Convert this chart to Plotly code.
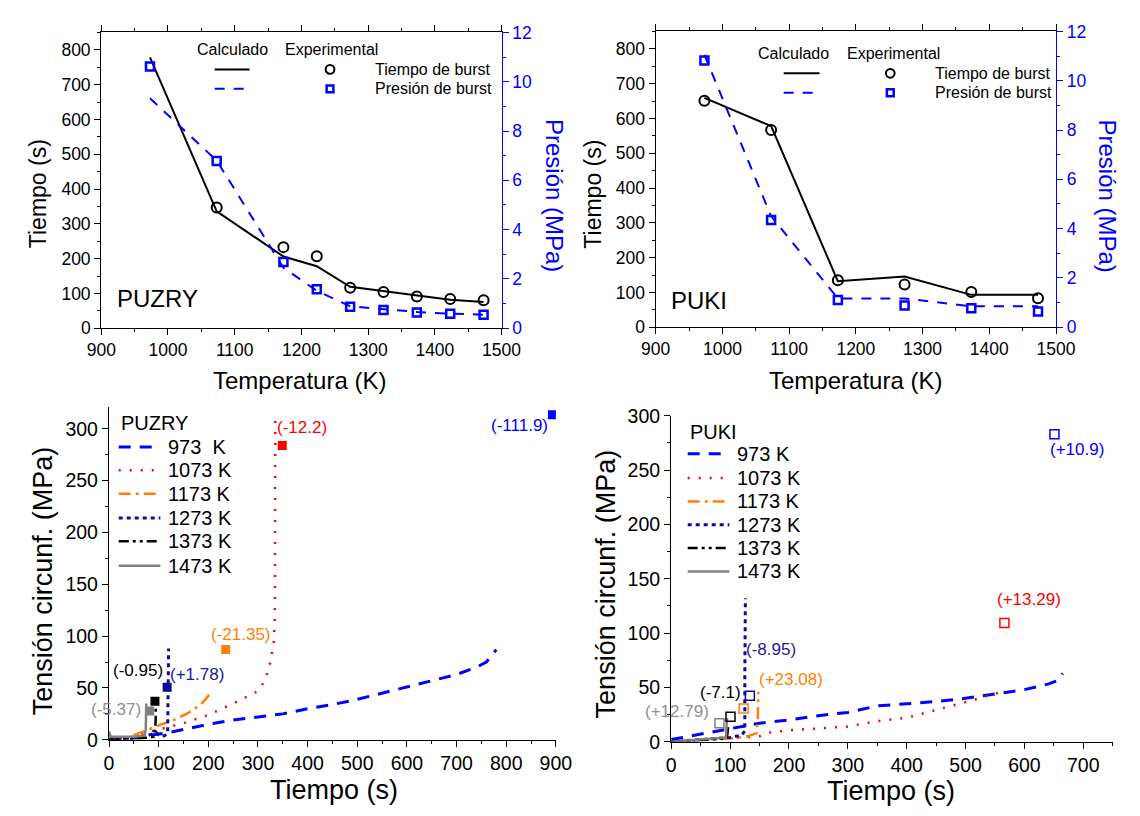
import plotly.graph_objects as go

# ---------------- DATA ----------------
# Top-left: PUZRY burst time / pressure vs temperature
T_PUZRY = [973, 1073, 1173, 1223, 1273, 1323, 1373, 1423, 1473]
puzry_time_calc = [778, 336, 206, 178, 119, 107, 94, 82, 75]
T_PUZRY_EXP = [1073, 1173, 1223, 1273, 1323, 1373, 1423, 1473]
puzry_time_exp = [347, 233, 207, 116, 104, 91, 84, 80]
puzry_pres_calc = [9.33, 6.8, 2.45, 1.52, 0.89, 0.76, 0.66, 0.59, 0.55]
puzry_pres_exp = [10.62, 6.78, 2.69, 1.58, 0.87, 0.74, 0.64, 0.59, 0.55]

# Top-right: PUKI
T_PUKI = [973, 1073, 1173, 1273, 1373, 1473]
puki_time_calc = [659, 578, 132, 146, 93, 93]
puki_time_exp = [651, 567, 135, 123, 101, 83]
puki_pres_calc = [11.05, 4.5, 1.17, 1.17, 0.85, 0.85]
puki_pres_exp = [10.82, 4.35, 1.10, 0.88, 0.77, 0.64]

# Bottom-left: PUZRY hoop stress vs time
puzry_t = {
    "973": [0, 40, 80, 120, 160, 200, 250, 300, 350, 400, 450, 500, 550, 600, 650, 700, 740, 760, 780],
    "1073": [0, 50, 100, 150, 200, 250, 300, 315, 325, 332, 334, 335, 335],
    "1173": [0, 40, 70, 100, 130, 160, 185, 203],
    "1273": [0, 40, 70, 85, 95, 105, 112, 118, 119, 120, 120],
    "1373": [0, 40, 80, 90, 93, 94, 94],
    "1473": [0, 3, 20, 50, 72, 74, 75],
}
puzry_s = {
    "973": [0, 1.5, 4, 7, 11, 15, 19, 22, 25, 30, 34, 39, 45, 51, 57, 63, 70, 75, 87],
    "1073": [0, 3, 10, 16, 24, 35, 47, 58, 75, 95, 120, 200, 310],
    "1173": [0, 3, 8, 14, 19, 26, 34, 44],
    "1273": [0, 1, 3, 5, 7, 3, 4, 6, 30, 60, 88],
    "1373": [0, 1, 2, 3, 10, 20, 31],
    "1473": [8, 3, 3, 3, 4, 10, 35],
}
puzry_burst_t = [893, 349, 235, 117, 92.5, 82]
puzry_burst_s = [313.5, 284, 87, 50.6, 37.2, 27.8]
puzry_err = ["(-111.9)", "(-12.2)", "(-21.35)", "(+1.78)", "(-0.95)", "(-5.37)"]
puzry_err_x = [826, 389, 265, 178, 58, 14]
puzry_err_y = [303, 301, 102, 63.4, 66.6, 29.4]

# Bottom-right: PUKI hoop stress vs time
puki_t = {
    "973": [0, 50, 100, 150, 200, 250, 300, 350, 400, 450, 500, 550, 600, 640, 655, 665],
    "1073": [0, 100, 150, 160, 200, 300, 350, 400, 450, 500, 550, 560],
    "1173": [0, 60, 100, 130, 145, 147, 148],
    "1273": [0, 60, 100, 120, 125, 125, 126],
    "1373": [0, 50, 90, 95, 97],
    "1473": [0, 30, 60, 93, 94, 95],
}
puki_s = {
    "973": [2, 7, 12, 17, 20, 24, 27, 33, 35, 37, 40, 44, 48, 53, 56, 63],
    "1073": [0, 3, 5, 8, 10.5, 14, 19, 22, 29, 36.5, 44, 46],
    "1173": [0, 2, 3, 5, 8, 20, 46],
    "1273": [0, 2, 4, 6, 10, 60, 132],
    "1373": [0, 1.5, 3, 5, 15],
    "1473": [0, 1.5, 2.5, 4, 15, 22],
}
puki_burst_t = [651, 566, 123, 133.6, 100.7, 82]
puki_burst_s = [283, 109.4, 30.5, 42.4, 23, 17]
puki_err = ["(+10.9)", "(+13.29)", "(+23.08)", "(-8.95)", "(-7.1)", "(+12.79)"]
puki_err_x = [689, 608, 204, 170, 83, 10]
puki_err_y = [269, 131, 57.4, 84.9, 45.4, 27.5]

# ---------------- STYLE ----------------
keys = ["973", "1073", "1173", "1273", "1373", "1473"]
colors = ["#0000FF", "#FF0000", "#FF8000", "#0A0AA0", "#000000", "#808080"]
dashes = ["12px,9px", "2px,9px", "12px,5px,3px,5px", "4px,4px", "10px,4px,3px,4px,3px,4px", "solid"]
widths = [3, 2.5, 2.5, 3, 2.5, 2.5]
label_colors = ["#0000FF", "#FF0000", "#FF8000", "#1A1AA0", "#000000", "#909090"]

FONT = "Liberation Sans, Arial, sans-serif"
W, H = 1140, 816


def px(x):
    return x / W


def py(y):
    return 1 - y / H


fig = go.Figure()

# top-left
fig.add_trace(go.Scatter(x=T_PUZRY, y=puzry_time_calc, mode="lines",
                         line=dict(color="black", width=2), xaxis="x", yaxis="y", showlegend=False))
fig.add_trace(go.Scatter(x=T_PUZRY_EXP, y=puzry_time_exp, mode="markers",
                         marker=dict(symbol="circle-open", size=10, color="black", line=dict(width=2)),
                         xaxis="x", yaxis="y", showlegend=False))
fig.add_trace(go.Scatter(x=T_PUZRY, y=puzry_pres_calc, mode="lines",
                         line=dict(color="#0000FF", width=2, dash="10px,9px"), xaxis="x", yaxis="y2", showlegend=False))
fig.add_trace(go.Scatter(x=T_PUZRY, y=puzry_pres_exp, mode="markers",
                         marker=dict(symbol="square-open", size=8, color="#0000FF", line=dict(width=2.5)),
                         xaxis="x", yaxis="y2", showlegend=False))

# top-right
fig.add_trace(go.Scatter(x=T_PUKI, y=puki_time_calc, mode="lines",
                         line=dict(color="black", width=2), xaxis="x2", yaxis="y3", showlegend=False))
fig.add_trace(go.Scatter(x=T_PUKI, y=puki_time_exp, mode="markers",
                         marker=dict(symbol="circle-open", size=10, color="black", line=dict(width=2)),
                         xaxis="x2", yaxis="y3", showlegend=False))
fig.add_trace(go.Scatter(x=T_PUKI, y=puki_pres_calc, mode="lines",
                         line=dict(color="#0000FF", width=2, dash="10px,9px"), xaxis="x2", yaxis="y4", showlegend=False))
fig.add_trace(go.Scatter(x=T_PUKI, y=puki_pres_exp, mode="markers",
                         marker=dict(symbol="square-open", size=8, color="#0000FF", line=dict(width=2.5)),
                         xaxis="x2", yaxis="y4", showlegend=False))

# bottom-left curves
for i, k in enumerate(keys):
    fig.add_trace(go.Scatter(x=puzry_t[k], y=puzry_s[k], mode="lines",
                             line=dict(color=colors[i], width=widths[i],
                                       dash=None if dashes[i] == "solid" else dashes[i]),
                             xaxis="x3", yaxis="y5", showlegend=False))
for i, k in enumerate(keys):
    fig.add_trace(go.Scatter(x=[puzry_burst_t[i]], y=[puzry_burst_s[i]], mode="markers",
                             marker=dict(symbol="square", size=9, color=colors[i]),
                             xaxis="x3", yaxis="y5", showlegend=False))

# bottom-right curves
for i, k in enumerate(keys):
    fig.add_trace(go.Scatter(x=puki_t[k], y=puki_s[k], mode="lines",
                             line=dict(color=colors[i], width=widths[i],
                                       dash=None if dashes[i] == "solid" else dashes[i]),
                             xaxis="x4", yaxis="y6", showlegend=False))
for i, k in enumerate(keys):
    fig.add_trace(go.Scatter(x=[puki_burst_t[i]], y=[puki_burst_s[i]], mode="markers",
                             marker=dict(symbol="square-open", size=9, color=colors[i], line=dict(width=1.5)),
                             xaxis="x4", yaxis="y6", showlegend=False))

annotations = []
shapes = []

for i in range(6):
    annotations.append(dict(x=puzry_err_x[i], y=puzry_err_y[i], xref="x3", yref="y5", text=puzry_err[i],
                            showarrow=False, font=dict(family=FONT, size=17, color=label_colors[i])))
    annotations.append(dict(x=puki_err_x[i], y=puki_err_y[i], xref="x4", yref="y6", text=puki_err[i],
                            showarrow=False, font=dict(family=FONT, size=17, color=label_colors[i])))

# axis common styles
tick_top = dict(family=FONT, size=17.5, color="black")
tick_bot = dict(family=FONT, size=19.5, color="black")
blue_tick = dict(family=FONT, size=17.5, color="#0000FF")

def xax(domain, anchor, rng, dtick, minor, font, mirror):
    return dict(domain=domain, anchor=anchor, range=rng, dtick=dtick, tick0=0,
                showline=True, linecolor="black", linewidth=1.3, mirror=mirror,
                ticks="outside", ticklen=6, tickwidth=1.3, tickcolor="black",
                minor=dict(dtick=minor, ticks="outside", ticklen=3, tickwidth=1.2, tickcolor="black"),
                showgrid=False, zeroline=False, tickfont=font)

def yax(domain, anchor, rng, dtick, minor, font):
    return dict(domain=domain, anchor=anchor, range=rng, dtick=dtick, tick0=0,
                showline=True, linecolor="black", linewidth=1.3,
                ticks="outside", ticklen=6, tickwidth=1.3, tickcolor="black",
                minor=dict(dtick=minor, ticks="outside", ticklen=3, tickwidth=1.2, tickcolor="black"),
                showgrid=False, zeroline=False, tickfont=font)

def y2ax(overlay, anchor):
    return dict(overlaying=overlay, anchor=anchor, side="right", range=[0, 12], dtick=2, tick0=0,
                showline=True, linecolor="#0000FF", linewidth=1.3,
                ticks="outside", ticklen=6, tickwidth=1.3, tickcolor="#0000FF",
                minor=dict(dtick=1, ticks="outside", ticklen=3, tickwidth=1.2, tickcolor="#0000FF"),
                showgrid=False, zeroline=False, tickfont=blue_tick)

TL_x = [px(89), px(502)]
TL_y = [py(326), py(22)]
TR_x = [px(661), px(1074)]
TR_y = [py(325), py(21)]
BL_x = [px(97), px(558)]
BL_y = [py(749), py(407)]
BR_x = [px(677), px(1132.5)]
BR_y = [py(751), py(416)]

layout = dict(
    width=W, height=H, margin=dict(l=0, r=0, t=0, b=0),
    paper_bgcolor="white", plot_bgcolor="white", showlegend=False,
    font=dict(family=FONT, color="black"),
    xaxis=xax(TL_x, "y", [900, 1500], 100, 50, tick_top, "ticks"),
    yaxis=yax(TL_y, "x", [0, 850], 100, 50, tick_top),
    yaxis2=y2ax("y", "x"),
    xaxis2=xax(TR_x, "y3", [900, 1500], 100, 50, tick_top, "ticks"),
    yaxis3=yax(TR_y, "x2", [0, 850], 100, 50, tick_top),
    yaxis4=y2ax("y3", "x2"),
    xaxis3=xax(BL_x, "y5", [0, 900], 100, 50, tick_bot, False),
    yaxis5=yax(BL_y, "x3", [0, 321], 50, 25, tick_bot),
    xaxis4=xax(BR_x, "y6", [0, 750], 100, 50, tick_bot, False),
    yaxis6=yax(BR_y, "x4", [0, 300], 50, 25, tick_bot),
)

# axis titles (annotations in pixel positions)
def ann(x, y, text, size, color="black", angle=0, xanchor="center"):
    annotations.append(dict(x=px(x), y=py(y), xref="paper", yref="paper", text=text, showarrow=False,
                            textangle=angle, xanchor=xanchor, yanchor="middle",
                            font=dict(family=FONT, size=size, color=color)))

ann(24, 188, "Tiempo (s)", 23, angle=-90)
ann(294, 380, "Temperatura (K)", 24)
ann(556, 190, "Presión (MPa)", 24, color="#0000FF", angle=90)
ann(596, 188, "Tiempo (s)", 23, angle=-90)
ann(867, 380, "Temperatura (K)", 24)
ann(1127, 190, "Presión (MPa)", 24, color="#0000FF", angle=90)
ann(29, 586, "Tensión circunf. (MPa)", 27, angle=-90)
ann(329, 801, "Tiempo (s)", 27)
ann(610, 589, "Tensión circunf. (MPa)", 27, angle=-90)
ann(904, 802, "Tiempo (s)", 27)

# PUZRY / PUKI labels top
ann(103, 295, "PUZRY", 24, xanchor="left")
ann(675, 298, "PUKI", 24, xanchor="left")

# top legends
def top_legend(cx_calc, cx_exp, y_head, y1, y2, lx0, lx1, mx, tx):
    ann(cx_calc, y_head, "Calculado", 16)
    ann(cx_exp, y_head, "Experimental", 16)
    shapes.append(dict(type="line", xref="paper", yref="paper", x0=px(lx0), x1=px(lx1), y0=py(y1), y1=py(y1),
                       line=dict(color="black", width=2)))
    shapes.append(dict(type="line", xref="paper", yref="paper", x0=px(lx0), x1=px(lx1), y0=py(y2), y1=py(y2),
                       line=dict(color="#0000FF", width=2, dash="10px,9px")))
    shapes.append(dict(type="circle", xref="paper", yref="paper", x0=px(mx - 4.5), x1=px(mx + 4.5),
                       y0=py(y1 + 4.5), y1=py(y1 - 4.5), line=dict(color="black", width=2)))
    shapes.append(dict(type="rect", xref="paper", yref="paper", x0=px(mx - 3.5), x1=px(mx + 3.5),
                       y0=py(y2 + 3.5), y1=py(y2 - 3.5), line=dict(color="#0000FF", width=2.5)))
    ann(tx, y1, "Tiempo de burst", 16, xanchor="left")
    ann(tx, y2, "Presión de burst", 16, xanchor="left")

top_legend(224, 327, 40, 60, 80, 206, 242, 325, 369)
top_legend(803, 906, 44, 64, 84, 793, 830, 903, 947)

# bottom legends
def bottom_legend(title, labels, x0, x1, tx, ty, ys):
    ann(x0, ty, title, 20, xanchor="left")
    for i in range(6):
        shapes.append(dict(type="line", xref="paper", yref="paper", x0=px(x0), x1=px(x1), y0=py(ys[i]), y1=py(ys[i]),
                           line=dict(color=colors[i], width=widths[i],
                                     dash=None if dashes[i] == "solid" else dashes[i])))
        ann(tx, ys[i], labels[i], 20, xanchor="left")

bottom_legend("PUZRY", ["973\u00a0\u00a0K", "1073 K", "1173 K", "1273 K", "1373 K", "1473 K"],
              107, 150, 156, 423, [448, 472, 496, 521, 545, 570])
bottom_legend("PUKI", ["973 K", "1073 K", "1173 K", "1273 K", "1373 K", "1473 K"],
              694, 737, 743, 433, [455, 480, 504, 528, 552, 576])

layout["annotations"] = annotations
layout["shapes"] = shapes
fig.update_layout(**layout)

fig.write_html("out.html", config={"displayModeBar": False},
               post_script="document.body.style.margin='0';")
